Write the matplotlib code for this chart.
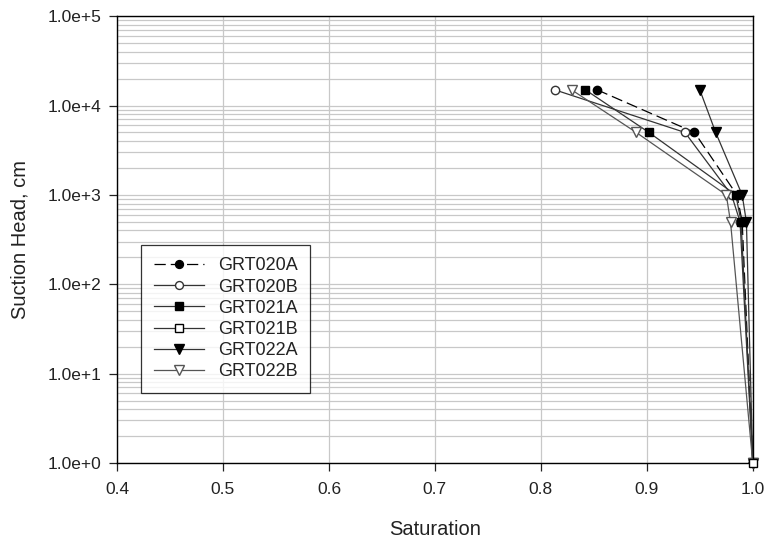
import matplotlib
matplotlib.use("Agg")
import matplotlib.pyplot as plt
from matplotlib.ticker import FuncFormatter, LogLocator, NullFormatter

plt.rcParams['font.family'] = ['Liberation Sans', 'DejaVu Sans']

# suction head levels (cm)
suction = [15000, 5000, 1000, 500, 1]

# saturation per sample
grt020a = [0.853, 0.945, 0.985, 0.990, 1.0]
grt020b = [0.813, 0.936, 0.980, 0.988, 1.0]
grt021a = [0.842, 0.902, 0.984, 0.989, 1.0]
grt021b_s = [1.0]
grt021b_h = [1]
grt022a = [0.950, 0.965, 0.990, 0.994, 1.0]
grt022b = [0.829, 0.890, 0.975, 0.979, 1.0]

fig = plt.figure(figsize=(7.65, 5.39), dpi=100)
ax = fig.add_axes([0.153, 0.141, 0.831, 0.829])

ms = 6
ax.plot(grt020a, suction, color="black", lw=0.9, ls=(0, (9, 4)), marker="o",
        ms=ms, mfc="black", mec="black", label="GRT020A")
ax.plot(grt020b, suction, color="#333333", lw=0.9, marker="o",
        ms=ms, mfc="white", mec="#333333", label="GRT020B")
ax.plot(grt021a, suction, color="#333333", lw=0.9, marker="s",
        ms=ms, mfc="black", mec="black", label="GRT021A")
ax.plot(grt021b_s, grt021b_h, color="#333333", lw=0.9, marker="s",
        ms=ms, mfc="white", mec="black", label="GRT021B", clip_on=False, zorder=5)
ax.plot(grt022a, suction, color="#333333", lw=0.9, marker="v",
        ms=ms + 1, mfc="black", mec="black", label="GRT022A", clip_on=False)
ax.plot(grt022b, suction, color="#555555", lw=0.9, marker="v",
        ms=ms + 1, mfc="white", mec="#555555", label="GRT022B", clip_on=False)

ax.set_yscale("log")
ax.set_xlim(0.4, 1.0)
ax.set_ylim(1, 1e5)
ax.set_xticks([0.4, 0.5, 0.6, 0.7, 0.8, 0.9, 1.0])
ax.xaxis.set_major_formatter(FuncFormatter(lambda v, p: f"{v:.1f}"))
ax.yaxis.set_major_locator(LogLocator(base=10, numticks=10))
ax.yaxis.set_minor_locator(LogLocator(base=10, subs=range(2, 10), numticks=50))
ax.yaxis.set_minor_formatter(NullFormatter())
ax.yaxis.set_major_formatter(FuncFormatter(lambda v, p: f"{v:.1e}".replace("e+0", "e+")))

ax.grid(True, which="major", axis="both", color="#c8c8c8", lw=0.9)
ax.grid(True, which="minor", axis="y", color="#c8c8c8", lw=0.9)
ax.set_axisbelow(True)

ax.tick_params(axis="both", which="major", direction="out", length=6,
               labelsize=12.5, width=0.9, colors="#222222")
ax.tick_params(axis="x", which="major", pad=8)
ax.tick_params(axis="y", which="major", pad=5)
ax.tick_params(axis="y", which="minor", length=0)
for s in ax.spines.values():
    s.set_linewidth(1.0)

ax.set_xlabel("Saturation", fontsize=14.5, labelpad=16, color="#222222")
ax.set_ylabel("Suction Head, cm", fontsize=14.5, labelpad=13, color="#222222")

leg = ax.legend(loc="lower left", bbox_to_anchor=(0.0377, 0.157), frameon=True,
                fancybox=False, edgecolor="black", fontsize=13,
                handlelength=2.77, labelspacing=0.23, borderpad=0.7,
                handletextpad=0.78, borderaxespad=0, markerscale=0.95)
leg.get_frame().set_linewidth(0.9)
for t in leg.get_texts():
    t.set_color("#222222")

fig.savefig("out.png", dpi=100)
